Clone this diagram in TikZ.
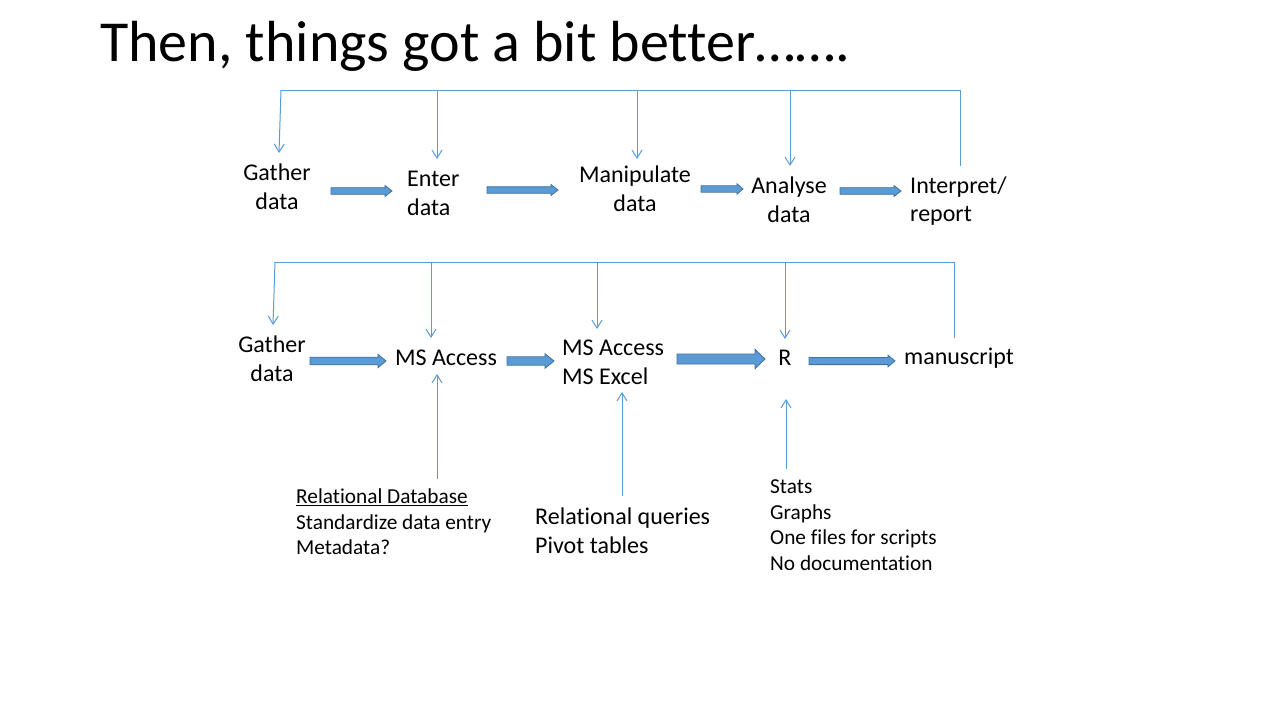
\documentclass[tikz,border=0pt]{standalone}
\usepackage{fontspec}
\setmainfont{Carlito}[Ligatures={NoCommon,NoRare,NoContextual}]
\usetikzlibrary{arrows.meta,calc}
\definecolor{afill}{HTML}{5B9BD5}
\definecolor{adraw}{HTML}{41719C}
\definecolor{lblue}{HTML}{5B9BD5}
% block arrow: start coord, end coord, shaft half, head half, head length
\newcommand\blkarr[5]{\filldraw[blkstyle] let \p1=(#1), \p2=(#2) in
  (\x1,\y1+#3pt) -- (\x2-#5pt,\y1+#3pt) -- (\x2-#5pt,\y1+#4pt) -- (\x2,\y1)
  -- (\x2-#5pt,\y1-#4pt) -- (\x2-#5pt,\y1-#3pt) -- (\x1,\y1-#3pt) -- cycle;}
\begin{document}
\begin{tikzpicture}[x=1pt,y=-1pt,
  txt/.style={inner sep=0pt, font=\fontsize{24}{28.8}\selectfont},
  small/.style={inner sep=0pt, font=\fontsize{21.3}{25.6}\selectfont},
  fb/.style={draw=lblue, line width=1pt},
  fba/.style={fb, -{Straight Barb[length=8pt,width=10pt]}},
  blkstyle/.style={fill=afill, draw=adraw, line width=0.8pt}]
\useasboundingbox[fill=white] (0,0) rectangle (1280,720);

\node[anchor=base west, inner sep=0pt, font=\fontsize{58}{70}\selectfont] (title) at (100,61) {Then, things got a bit better…….};

% top row
\node[txt, align=center] (g1) at (277,187) {Gather\\data};
\node[txt, align=left, anchor=west] (e1) at (407,193) {Enter\\data};
\node[txt, align=center] (m1) at (635,189) {Manipulate\\data};
\node[txt, align=center] (a1) at (789,200) {Analyse\\data};
\node[txt, align=left, anchor=west] (i1) at (910,201) {Interpret/\\report};

% bottom row
\node[txt, align=center] (g2) at (272,359) {Gather\\data};
\node[txt] (ms1) at (446,358) {MS Access};
\node[txt, align=left, anchor=west] (ms2) at (562,362) {MS Access\\MS Excel};
\node[txt] (r) at (785,358) {R};
\node[txt] (man) at (959,358) {manuscript};

% notes
\node[small, align=left, anchor=west] (n1) at (296,522) {\underline{Relational Database}\\Standardize data entry\\Metadata?};
\node[txt, align=left, anchor=west] (n2) at (535,531) {Relational queries\\Pivot tables};
\node[small, align=left, anchor=west] (n3) at (770,525) {Stats\\Graphs\\One files for scripts\\No documentation};

% block arrows top
\coordinate (b1s) at (331,191); \coordinate (b1e) at (392,191);
\coordinate (b2s) at (487,190); \coordinate (b2e) at (558,190);
\coordinate (b3s) at (701,189); \coordinate (b3e) at (743,189);
\coordinate (b4s) at (840,191); \coordinate (b4e) at (901,191);
\blkarr{b1s}{b1e}{3.3}{5.5}{7}
\blkarr{b2s}{b2e}{3.3}{5.5}{7}
\blkarr{b3s}{b3e}{3.2}{5.2}{6}
\blkarr{b4s}{b4e}{3.3}{5.5}{7}
% block arrows bottom
\coordinate (c1s) at (310,361); \coordinate (c1e) at (386,361);
\coordinate (c2s) at (507,361); \coordinate (c2e) at (554,361);
\coordinate (c3s) at (677,359); \coordinate (c3e) at (765,359);
\coordinate (c4s) at (809,361); \coordinate (c4e) at (895,361);
\blkarr{c1s}{c1e}{3.8}{6.7}{8}
\blkarr{c2s}{c2e}{4.2}{7.3}{9}
\blkarr{c3s}{c3e}{5}{9.7}{10}
\blkarr{c4s}{c4e}{3.6}{5.8}{7}

% top feedback bracket
\coordinate (t0) at (281,90); \coordinate (t0e) at (279,153);
\coordinate (t1) at (437,90); \coordinate (t1e) at (437,159);
\coordinate (t2) at (637,90); \coordinate (t2e) at (637,159);
\coordinate (t3) at (790,90); \coordinate (t3e) at (790,166);
\coordinate (t4) at (960,90); \coordinate (t4e) at (960,166);
\draw[fb] (t4e) -- (t4) -- (t0);
\draw[fba] (t0) -- (t0e);
\draw[fba] (t1) -- (t1e);
\draw[fba] (t2) -- (t2e);
\draw[fba] (t3) -- (t3e);

% bottom feedback bracket
\coordinate (u0) at (275,262); \coordinate (u0e) at (273,325);
\coordinate (u1) at (431,262); \coordinate (u1e) at (431,338);
\coordinate (u2) at (597,262); \coordinate (u2e) at (597,329);
\coordinate (u3) at (785,262); \coordinate (u3e) at (785,339);
\coordinate (u4) at (954,262); \coordinate (u4e) at (954,338);
\draw[fb] (u4e) -- (u4) -- (u0);
\draw[fba] (u0) -- (u0e);
\draw[fba] (u1) -- (u1e);
\draw[fba] (u2) -- (u2e);
\draw[fba] (u3) -- (u3e);

% up arrows from notes
\coordinate (v1s) at (437,479); \coordinate (v1e) at (437,374);
\coordinate (v2s) at (622,496); \coordinate (v2e) at (622,392);
\coordinate (v3s) at (786,469); \coordinate (v3e) at (786,399);
\draw[fba] (v1s) -- (v1e);
\draw[fba] (v2s) -- (v2e);
\draw[fba] (v3s) -- (v3e);
\end{tikzpicture}
\end{document}
